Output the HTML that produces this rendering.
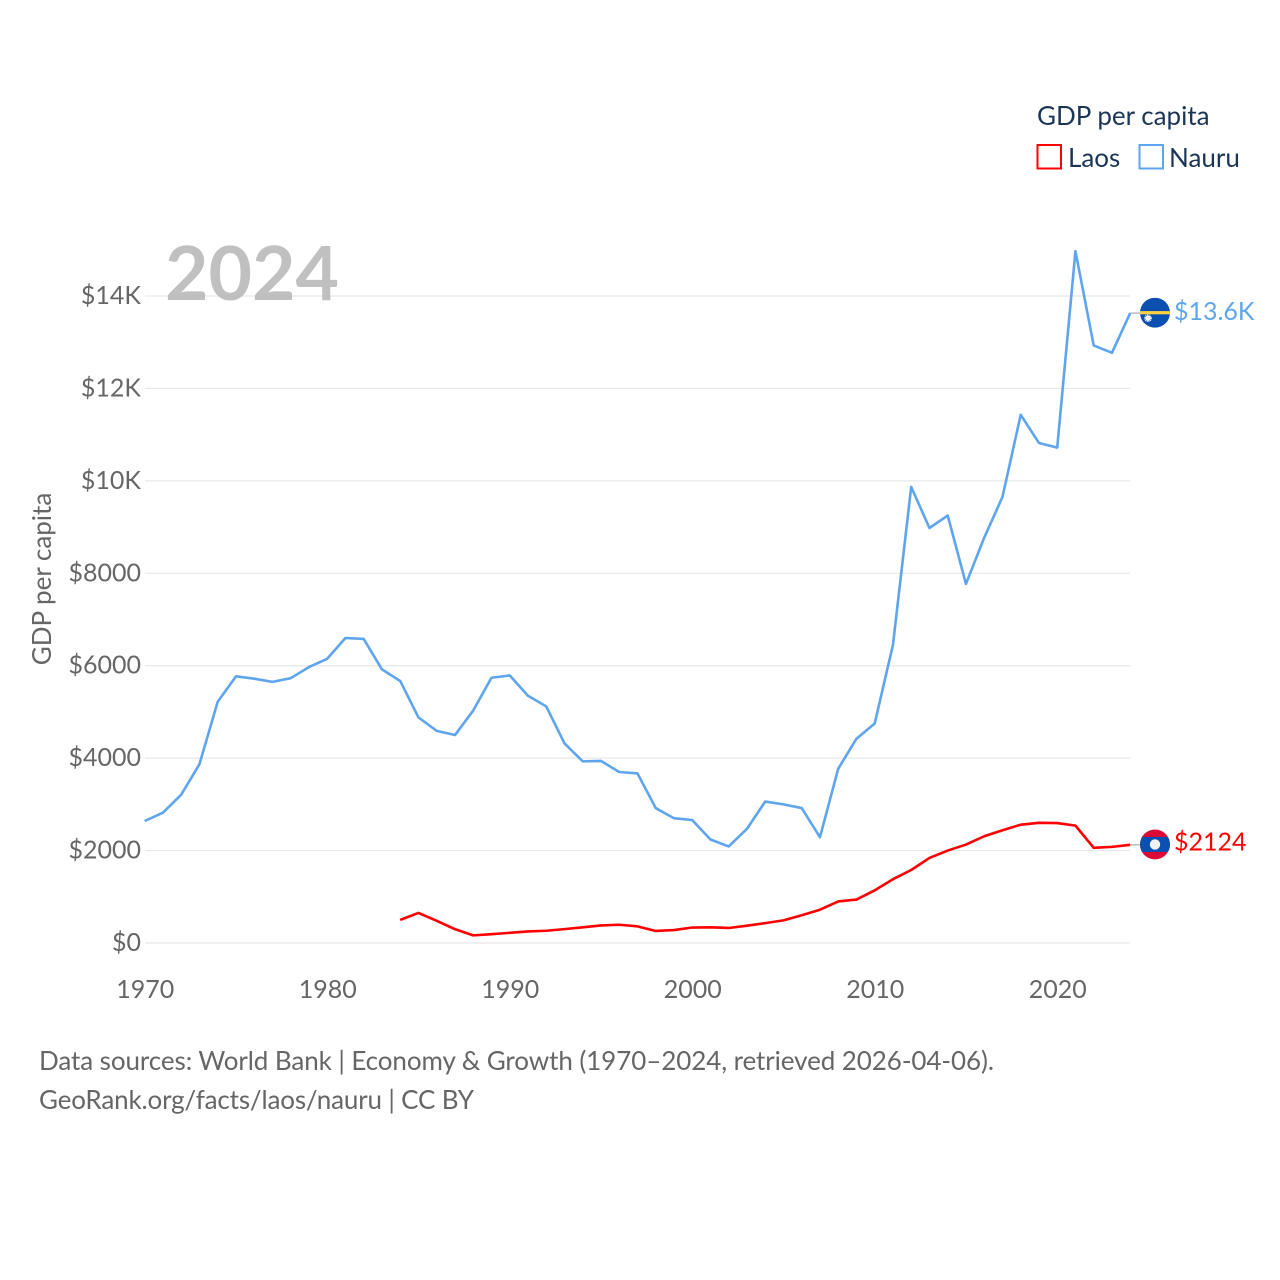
<!DOCTYPE html>
<html>
<head>
<meta charset="utf-8">
<style>
html,body{margin:0;padding:0;background:#fff;width:1280px;height:1280px;overflow:hidden}
svg{display:block}
text{font-family:Lato,Carlito,"Liberation Sans",sans-serif}
</style>
</head>
<body>
<svg id="chart" width="1280" height="1280" viewBox="0 0 1280 1280" xmlns="http://www.w3.org/2000/svg">
  <g id="grid"></g>
  <text x="165" y="300" font-size="75" font-weight="700" fill="#b0b0b0" fill-opacity="0.8">2024</text>
  <g id="yticks"></g>
  <g id="xticks"></g>
  <text transform="translate(51,579) rotate(-90)" text-anchor="middle" font-size="26" fill="#666">GDP per capita</text>
  <g id="series"></g>

  <defs>
    <clipPath id="clip-nauru"><circle id="clip-nauru-circle" r="15"></circle></clipPath>
    <clipPath id="clip-laos"><circle id="clip-laos-circle" r="15"></circle></clipPath>
  </defs>
  <g id="flag-nauru" clip-path="url(#clip-nauru)">
    <rect id="nauru-bg" width="30" height="30" fill="#0b50b0"></rect>
    <rect id="nauru-stripe" width="30" height="3.2" fill="#ffd23f"></rect>
    <circle id="nauru-star" r="2.6" fill="#fff"></circle>
    <circle id="nauru-star-rays" r="3.2" fill="none" stroke="#fff" stroke-width="1.2" stroke-dasharray="1 0.7"></circle>
  </g>
  <g id="flag-laos" clip-path="url(#clip-laos)">
    <rect id="laos-bg" width="30" height="30" fill="#dc0a36"></rect>
    <rect id="laos-band" width="30" height="15" fill="#0b50b0"></rect>
    <circle id="laos-disc" r="5.2" fill="#f2f2f2"></circle>
  </g>
  <text id="label-nauru" font-size="25" fill="#5ea5ee"></text>
  <text id="label-laos" font-size="25" fill="#ff0000"></text>

  <text x="1037" y="125" font-size="26" fill="#1b3557">GDP per capita</text>
  <g>
    <rect x="1037.500" y="145" width="23.500" height="23.500" fill="#fff" stroke="#ff0000" stroke-width="2"></rect>
    <text x="1068" y="167" font-size="26" fill="#1b3557">Laos</text>
  </g>
  <g>
    <rect x="1139.500" y="145" width="23.500" height="23.500" fill="#fff" stroke="#5ea5ee" stroke-width="2"></rect>
    <text x="1169" y="167" font-size="26" fill="#1b3557">Nauru</text>
  </g>

  <text x="39" y="1070" font-size="26" fill="#666" textLength="955" lengthAdjust="spacing">Data sources: World Bank | Economy &amp; Growth (1970–2024, retrieved 2026-04-06).</text>
  <text x="39" y="1109" font-size="26" fill="#666" textLength="435" lengthAdjust="spacing">GeoRank.org/facts/laos/nauru | CC BY</text>
</svg>
<script>
const nauruStartYear = 1970;
const nauruValues = [2640,2820,3210,3870,5220,5770,5720,5650,5730,5970,6150,6600,6580,5920,5670,4880,4590,4500,5030,5740,5790,5350,5120,4320,3930,3940,3700,3670,2920,2700,2660,2240,2090,2470,3060,3000,2920,2290,3770,4420,4750,6450,9870,8980,9250,7770,8770,9650,11430,10820,10720,14970,12930,12770,13630];
const laosStartYear = 1984;
const laosValues = [500,650,480,300,165,190,220,250,265,300,340,380,395,360,260,280,335,340,325,375,430,490,600,720,900,940,1140,1380,1580,1840,2000,2130,2310,2440,2560,2600,2595,2540,2060,2080,2124];
const yTickValues = [0,2000,4000,6000,8000,10000,12000,14000];
const yTickLabels = ['$0','$2000','$4000','$6000','$8000','$10K','$12K','$14K'];
const xTickValues = [1970,1980,1990,2000,2010,2020];
const nauruEndLabel = '$13.6K';
const laosEndLabel = '$2124';

const NS = 'http://www.w3.org/2000/svg';
const xScale = function (year) { return 144.7 + (year - 1970) * 18.25; };
const yScale = function (v) { return 943 - v * 0.046214; };

function make(tag, parent, attrs) {
  const el = document.createElementNS(NS, tag);
  Object.keys(attrs).forEach(function (k) { el.setAttribute(k, attrs[k]); });
  parent.appendChild(el);
  return el;
}

const grid = document.getElementById('grid');
const yticks = document.getElementById('yticks');
const xticks = document.getElementById('xticks');
const series = document.getElementById('series');

yTickValues.forEach(function (v, i) {
  const line = make('line', grid, { x1: 145, x2: 1130, y1: yScale(v), y2: yScale(v), stroke: '#e8e8e8', 'stroke-width': 1.2 });
  
  
  const t = make('text', yticks, { x: 141, y: yScale(v) + 8, 'text-anchor': 'end', 'font-size': 25, fill: '#666' });
  t.textContent = yTickLabels[i];
  
  
});

xTickValues.forEach(function (y) {
  const t = make('text', xticks, { x: xScale(y) + 0.5, y: 998, 'text-anchor': 'middle', 'font-size': 25, fill: '#666' });
  t.textContent = String(y);
  
  
});

function drawSeries(values, startYear, color) {
  const pts = values.map(function (v, i) {
    return xScale(startYear + i).toFixed(2) + ',' + yScale(v).toFixed(2);
  }).join(' ');
  return make('polyline', series, { points: pts, fill: 'none', stroke: color, 'stroke-width': 2.6, 'stroke-linejoin': 'round' });
}

const nauruLine = drawSeries(nauruValues, nauruStartYear, '#5ea5ee');


const laosLine = drawSeries(laosValues, laosStartYear, '#ff0000');



function placeEnd(values, startYear, key, labelText, labelDy) {
  const lastV = values[values.length - 1];
  const endX = xScale(startYear + values.length - 1);
  const endY = yScale(lastV);
  const cx = 1155;
  const conn = make('line', series, { x1: endX, x2: cx - 15, y1: endY, y2: endY, stroke: '#aaa', 'stroke-width': 1.2 });
  
  
  const cy = endY - 0.4;
  const c = document.getElementById('clip-' + key + '-circle');
  c.setAttribute('cx', cx);
  c.setAttribute('cy', cy);
  const lbl = document.getElementById('label-' + key);
  lbl.setAttribute('x', 1174);
  lbl.setAttribute('y', endY + labelDy);
  lbl.textContent = labelText;
  return { cx: cx, cy: cy };
}

const nEnd = placeEnd(nauruValues, nauruStartYear, 'nauru', nauruEndLabel, 7);
const nBg = document.getElementById('nauru-bg');
nBg.setAttribute('x', nEnd.cx - 15);
nBg.setAttribute('y', nEnd.cy - 15);
const nStripe = document.getElementById('nauru-stripe');
nStripe.setAttribute('x', nEnd.cx - 15);
nStripe.setAttribute('y', nEnd.cy - 1.6);
const nStar = document.getElementById('nauru-star');
nStar.setAttribute('cx', nEnd.cx - 7);
nStar.setAttribute('cy', nEnd.cy + 5.5);
const nRays = document.getElementById('nauru-star-rays');
nRays.setAttribute('cx', nEnd.cx - 7);
nRays.setAttribute('cy', nEnd.cy + 5.5);

const lEnd = placeEnd(laosValues, laosStartYear, 'laos', laosEndLabel, 5.5);
const lBg = document.getElementById('laos-bg');
lBg.setAttribute('x', lEnd.cx - 15);
lBg.setAttribute('y', lEnd.cy - 15);
const lBand = document.getElementById('laos-band');
lBand.setAttribute('x', lEnd.cx - 15);
lBand.setAttribute('y', lEnd.cy - 7.5);
const lDisc = document.getElementById('laos-disc');
lDisc.setAttribute('cx', lEnd.cx);
lDisc.setAttribute('cy', lEnd.cy);
</script>
</body>
</html>
